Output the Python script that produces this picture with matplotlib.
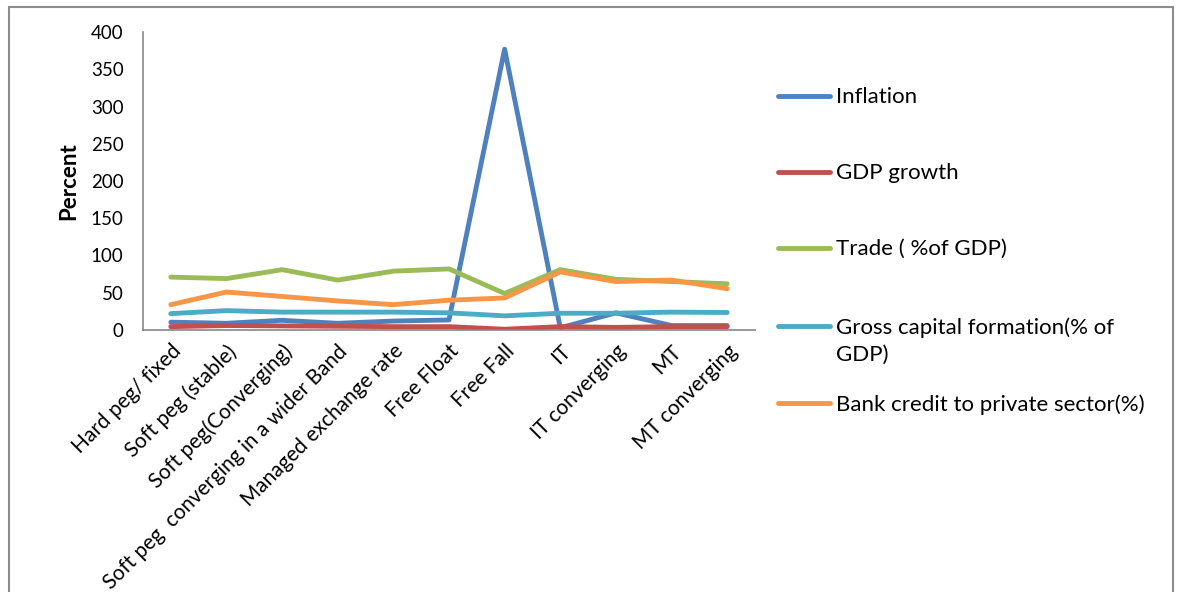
import numpy as np
import matplotlib.pyplot as plt
import matplotlib.transforms as mtransforms
from matplotlib.patches import Rectangle
from matplotlib.lines import Line2D

## Data #######################################################
regimes = ['Hard peg/ fixed', 'Soft peg (stable)', 'Soft peg(Converging)',
           'Soft peg  converging in a wider Band', 'Managed exchange rate',
           'Free Float', 'Free Fall', 'IT', 'IT converging', 'MT', 'MT converging']
inflation  = [10.5, 9, 13, 9, 12, 13.5, 377, 3, 23, 6, 6]
gdp_growth = [4.5, 6, 5.5, 5, 4.5, 4.5, 1, 4.5, 3.5, 4.5, 4.5]
trade      = [71, 69, 81, 67, 79, 82, 49, 81, 68, 65, 62]
gross_cap  = [22, 26, 24, 24, 24, 23, 19, 22.5, 22.5, 24, 23.5]
bank_cred  = [34, 51, 45, 39, 34, 40, 43, 78, 65, 67, 55.5]
labels = ['Inflation', 'GDP growth', 'Trade ( %of GDP)',
          'Gross capital formation(% of\nGDP)', 'Bank credit to private sector(%)']
colors = ['#4F81BD', '#C0504D', '#9BBB59', '#4BACC6', '#F79646']
yticks = [0, 50, 100, 150, 200, 250, 300, 350, 400]
## Data Over ##################################################

plt.rcParams['font.family'] = ['Lato', 'DejaVu Sans']
W, H = 1179, 592

fig = plt.figure(figsize=(W/100, H/100), dpi=100)
ax = fig.add_axes([143/W, 1-330/H, (755-143)/W, (330-32)/H])

x = np.arange(len(regimes))
series = [inflation, gdp_growth, trade, gross_cap, bank_cred]
for s, lab, c in zip(series, labels, colors):
    ax.plot(x, s, color=c, lw=3.5, label=lab, solid_joinstyle='round', solid_capstyle='round')

ax.set_xlim(-0.5, len(regimes)-0.5)
ax.set_ylim(0, 400)
ax.set_yticks(yticks)
ax.set_xticks(x)
ax.set_xticklabels(regimes, rotation=45, ha='right', rotation_mode='anchor', fontsize=15)
# nudge the slanted labels a little to the left, like the original
shift = mtransforms.ScaledTranslation(-5/100, 0, fig.dpi_scale_trans)
for t in ax.get_xticklabels():
    t.set_transform(t.get_transform() + shift)
ax.tick_params(axis='y', length=0, pad=14, labelsize=13.5)
ax.tick_params(axis='x', length=0, pad=8)
for sp in ['top', 'right']:
    ax.spines[sp].set_visible(False)
for sp in ['left', 'bottom']:
    ax.spines[sp].set_color('#868686')
    ax.spines[sp].set_linewidth(1.2)
ax.set_ylabel('Percent', fontsize=16, fontweight='bold', labelpad=8)

# legend, drawn like the Excel one (handle next to the first text line)
leg_y = [96, 172, 248, 326, 403]
for lab, c, yy in zip(labels, colors, leg_y):
    fig.add_artist(Line2D([778/W, 830/W], [1-yy/H, 1-yy/H], color=c, lw=3.5,
                          solid_capstyle='round'))
    fig.text(836/W, 1-(yy-9)/H, lab, fontsize=16, va='top', ha='left', linespacing=1.45)

# outer chart frame
fig.patches.append(Rectangle((9/W, -0.1), (1173-9)/W, 1.1-7/H,
                             transform=fig.transFigure, fill=False,
                             edgecolor='#8c8c8c', lw=1.5))

plt.savefig('out.png', dpi=100)
